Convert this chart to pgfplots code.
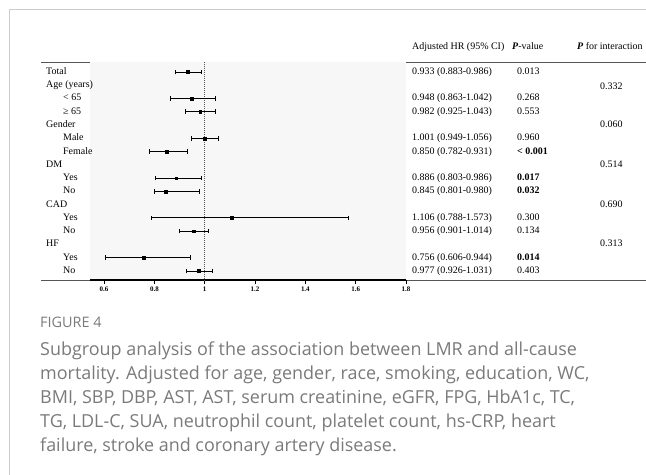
\documentclass[border=0pt]{standalone}
\usepackage{pgfplots}
\pgfplotsset{compat=1.18}
\usepackage{pgfplotstable}
\usepackage{fontspec}
\setmainfont{Liberation Serif}
\newfontfamily\capfont{Open Sans}
\definecolor{framegray}{HTML}{CCCCCC}
\definecolor{shade}{HTML}{F7F7F7}
\definecolor{capgray}{HTML}{7A7A7A}
\definecolor{rulegray}{HTML}{555555}

% row hr lower upper
\pgfplotstableread{
row hr lo hi
1 0.933 0.883 0.986
3 0.948 0.863 1.042
4 0.982 0.925 1.043
6 1.001 0.949 1.056
7 0.850 0.782 0.931
9 0.886 0.803 0.986
10 0.845 0.801 0.980
12 1.106 0.788 1.573
13 0.956 0.901 1.014
15 0.756 0.606 0.944
16 0.977 0.926 1.031
}\foresttab

\begin{document}
\begin{tikzpicture}
\path[use as bounding box] (0,0) rectangle (646bp,-475bp);
% frame
\draw[framegray, line width=1bp] (9bp,-475bp) -- (9bp,-9bp) -- (646bp,-9bp);
% header and bottom rules
\draw[rulegray, line width=1bp] (41bp,-62bp) -- (646bp,-62bp);
\draw[rulegray, line width=1bp] (41bp,-280bp) -- (646bp,-280bp);
\begin{axis}[
  at={(90bp,-280bp)}, anchor=south west,
  width=316bp, height=218bp, scale only axis,
  xmin=0.544, xmax=1.8,
  ymin=-16.68, ymax=-0.25,
  axis background/.style={fill=shade},
  axis y line=none,
  axis x line*=bottom,
  x axis line style={line width=1.3bp, black, -},
  xtick={0.6,0.8,1,1.2,1.4,1.6,1.8},
  tick align=outside,
  major tick length=4bp,
  tick style={black, line width=1bp},
  /pgf/number format/assume math mode=true,
  xticklabel style={font=\bfseries\fontsize{7}{8}\selectfont, yshift=1bp},
  clip=false,
]
\addplot[densely dotted, line width=1bp, black!65] coordinates {(1,-0.25) (1,-16.68)};
\addplot[only marks, mark=square*, mark size=1.4bp, black, mark options={line width=0.2bp},
  error bars/.cd, x dir=both, x explicit,
  error mark=|,
  error bar style={line width=0.9bp, black},
  error mark options={mark size=2.3bp, line width=0.8bp, black}]
  table[x=hr, y expr=-\thisrow{row},
        x error plus expr=\thisrow{hi}-\thisrow{hr},
        x error minus expr=\thisrow{hr}-\thisrow{lo}] {\foresttab};
\end{axis}
\begin{scope}[x=1bp, y=-1bp, every node/.style={inner sep=0pt, anchor=west, text height=0.7em, text depth=0.2em, font=\fontsize{10}{12}\selectfont}]
% header
\node at (412,47) {Adjusted HR (95\% CI)};
\node at (512,47) {\textbf{\textit{P}}-value};
\node at (577,47) {\textbf{\textit{P}} for interaction};
% left labels
\node at (46,72.0) {Total};
\node at (46,85.3) {Age (years)};
\node at (63,98.5) {< 65};
\node at (63,111.8) {≥ 65};
\node at (46,125.1) {Gender};
\node at (63,138.4) {Male};
\node at (63,151.6) {Female};
\node at (46,164.9) {DM};
\node at (63,178.2) {Yes};
\node at (63,191.4) {No};
\node at (46,204.7) {CAD};
\node at (63,218.0) {Yes};
\node at (63,231.2) {No};
\node at (46,244.5) {HF};
\node at (63,257.8) {Yes};
\node at (63,271.1) {No};
% HR column
\node at (412,72.0) {0.933 (0.883-0.986)};
\node at (412,98.5) {0.948 (0.863-1.042)};
\node at (412,111.8) {0.982 (0.925-1.043)};
\node at (412,138.4) {1.001 (0.949-1.056)};
\node at (412,151.6) {0.850 (0.782-0.931)};
\node at (412,178.2) {0.886 (0.803-0.986)};
\node at (412,191.4) {0.845 (0.801-0.980)};
\node at (412,218.0) {1.106 (0.788-1.573)};
\node at (412,231.2) {0.956 (0.901-1.014)};
\node at (412,257.8) {0.756 (0.606-0.944)};
\node at (412,271.1) {0.977 (0.926-1.031)};
% P-value column
\node at (517,72.0) {0.013};
\node at (517,98.5) {0.268};
\node at (517,111.8) {0.553};
\node at (517,138.4) {0.960};
\node at (517,151.6) {\textbf{< 0.001}};
\node at (517,178.2) {\textbf{0.017}};
\node at (517,191.4) {\textbf{0.032}};
\node at (517,218.0) {0.300};
\node at (517,231.2) {0.134};
\node at (517,257.8) {\textbf{0.014}};
\node at (517,271.1) {0.403};
% interaction
\node at (600,87.0) {0.332};
\node at (600,125.1) {0.060};
\node at (600,164.9) {0.514};
\node at (600,204.7) {0.690};
\node at (600,244.5) {0.313};
\end{scope}
\begin{scope}[x=1bp, y=-1bp, every node/.style={inner sep=0pt, anchor=base west, text=capgray}]
\node[font=\capfont\fontsize{14.5}{16}\selectfont] at (40,327) {FIGURE 4};
\node[font=\capfont\fontsize{18}{20}\selectfont] at (40,355) {Subgroup analysis of the association between LMR and all-cause};
\node[font=\capfont\fontsize{18}{20}\selectfont] at (40,379) {mortality. Adjusted for age, gender, race, smoking, education, WC,};
\node[font=\capfont\fontsize{18}{20}\selectfont] at (40,403) {BMI, SBP, DBP, AST, AST, serum creatinine, eGFR, FPG, HbA1c, TC,};
\node[font=\capfont\fontsize{18}{20}\selectfont] at (40,427) {TG, LDL-C, SUA, neutrophil count, platelet count, hs-CRP, heart};
\node[font=\capfont\fontsize{18}{20}\selectfont] at (40,451) {failure, stroke and coronary artery disease.};
\end{scope}
\end{tikzpicture}
\end{document}
